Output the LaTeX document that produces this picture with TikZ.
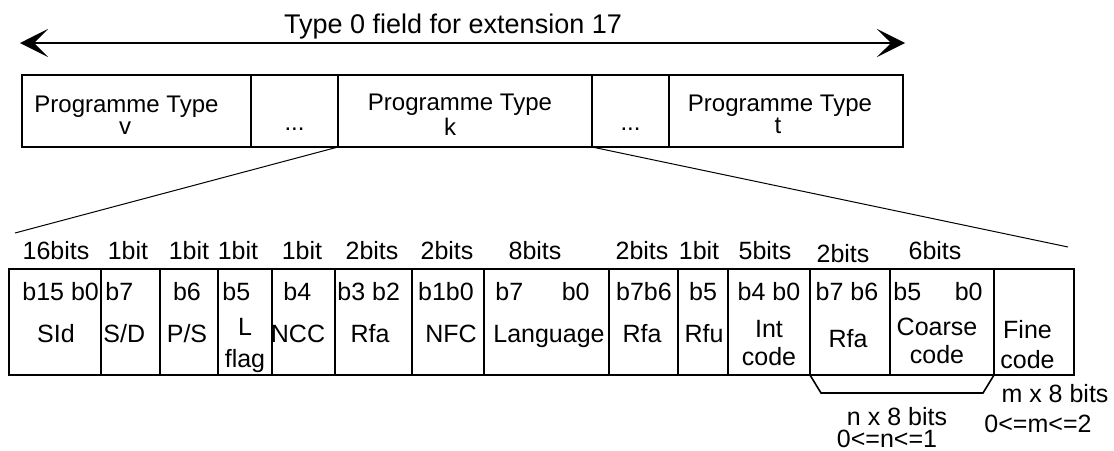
\documentclass[tikz,border=0pt]{standalone}
\usepackage{fontspec}
\setmainfont{Liberation Sans}
\usetikzlibrary{positioning, arrows.meta}
\tikzset{
  ptbox/.style={rectangle, draw, line width=1pt, minimum height=36pt,
                outer sep=0pt, inner sep=0pt, align=center,
                font=\fontsize{12}{11}\selectfont},
  cell/.style={rectangle, draw, line width=1pt, minimum height=53pt,
               outer sep=0pt, inner sep=0pt},
  lbl/.style={inner sep=0pt, anchor=base, font=\fontsize{12.5}{13}\selectfont},
  lbl2/.style={lbl, align=center, font=\fontsize{12.5}{14}\selectfont},
  zoomline/.style={line width=0.5pt},
  brace/.style={line width=0.8pt},
  span/.style={{Stealth[length=14pt,width=14pt,inset=7pt]}-{Stealth[length=14pt,width=14pt,inset=7pt]},
               line width=1pt},
}
\newcommand{\ptstrut}{\rule{0pt}{12pt}}

\begin{document}
\begin{tikzpicture}[x=0.5pt, y=-0.5pt]
  \useasboundingbox (0,0) rectangle (1114,450);

  % whole type 0 field
  \coordinate (spanl) at (20,43);
  \coordinate (spanr) at (905,43);
  \draw[span] (spanl) -- (spanr);
  \node[lbl, font=\fontsize{13.5}{15}\selectfont] (title) at (453,33)
        {Type 0 field for extension 17};

  \node[ptbox, minimum width=114.5pt, anchor=north west] (ptv) at (22,75)
        {\ptstrut Programme Type\hspace*{10pt}\\v\hspace*{11.5pt}};
  \node[ptbox, minimum width=43.5pt, right=0pt of ptv] (dotsa) {\phantom{P}\\...};
  \node[ptbox, minimum width=127pt, right=0pt of dotsa] (ptk)
        {\ptstrut Programme Type\hspace*{5pt}\\k\hspace*{15pt}};
  \node[ptbox, minimum width=38.5pt, right=0pt of ptk] (dotsb) {\phantom{P}\\...};
  \node[ptbox, minimum width=117pt, right=0pt of dotsb] (ptt)
        {\ptstrut Programme Type\hspace*{6pt}\\t\hspace*{8pt}};

  % zoom into programme type k
  \coordinate (zl) at (15,233);
  \coordinate (zr) at (1068,247);
  \draw[zoomline] (ptk.south west) -- (zl);
  \draw[zoomline] (ptk.south east) -- (zr);

  % fields
  \node[cell, minimum width=46pt, anchor=north west] (sid) at (9,269) {};
  \node[cell, minimum width=29.5pt, right=0pt of sid] (sd) {};
  \node[cell, minimum width=29pt, right=0pt of sd] (ps) {};
  \node[cell, minimum width=27pt, right=0pt of ps] (lf) {};
  \node[cell, minimum width=31.5pt, right=0pt of lf] (ncc) {};
  \node[cell, minimum width=38.5pt, right=0pt of ncc] (rfaa) {};
  \node[cell, minimum width=36pt, right=0pt of rfaa] (nfc) {};
  \node[cell, minimum width=62.5pt, right=0pt of nfc] (lang) {};
  \node[cell, minimum width=34.5pt, right=0pt of lang] (rfab) {};
  \node[cell, minimum width=25pt, right=0pt of rfab] (rfu) {};
  \node[cell, minimum width=41pt, right=0pt of rfu] (intc) {};
  \node[cell, minimum width=40pt, right=0pt of intc] (rfac) {};
  \node[cell, minimum width=52pt, right=0pt of rfac] (coarse) {};
  \node[cell, minimum width=40pt, right=0pt of coarse] (fine) {};

  % field sizes
  \node[lbl] (wsid) at (56,259) {16bits};
  \node[lbl] (wsd) at (128,259) {1bit};
  \node[lbl] (wps) at (189,259) {1bit};
  \node[lbl] (wlf) at (238,259) {1bit};
  \node[lbl] (wncc) at (302,259) {1bit};
  \node[lbl] (wrfaa) at (372,259) {2bits};
  \node[lbl] (wnfc) at (447,259) {2bits};
  \node[lbl] (wlang) at (535,259) {8bits};
  \node[lbl] (wrfab) at (642,259) {2bits};
  \node[lbl] (wrfu) at (699,259) {1bit};
  \node[lbl] (wintc) at (765,259) {5bits};
  \node[lbl] (wrfac) at (843,262) {2bits};
  \node[lbl] (wcoarse) at (935,259) {6bits};

  % bit numbers
  \node[lbl, anchor=base west] (bsid) at (22,300) {b15 b0};
  \node[lbl, anchor=base west] (bsd) at (105,300) {b7};
  \node[lbl] (bps) at (187,300) {b6};
  \node[lbl, anchor=base west] (blf) at (222,300) {b5};
  \node[lbl, anchor=base west] (bncc) at (283,300) {b4};
  \node[lbl, anchor=base west] (brfaa) at (337,300) {b3 b2};
  \node[lbl] (bnfc) at (446,300) {b1b0};
  \node[lbl, anchor=base west] (blanga) at (495,300) {b7};
  \node[lbl, anchor=base east] (blangb) at (590,300) {b0};
  \node[lbl] (brfab) at (644,300) {b7b6};
  \node[lbl] (brfu) at (703,300) {b5};
  \node[lbl] (bintc) at (769,300) {b4 b0};
  \node[lbl] (brfac) at (847,300) {b7 b6};
  \node[lbl, anchor=base west] (bcoarsea) at (893,300) {b5};
  \node[lbl, anchor=base east] (bcoarseb) at (983,300) {b0};

  % field names
  \node[lbl] (nsid) at (56,342) {SId};
  \node[lbl, anchor=base west] (nsd) at (103,342) {S/D};
  \node[lbl] (nps) at (187,342) {P/S};
  \node[lbl2] (nlf) at (245,367) {L\\[2pt]flag};
  \node[lbl] (nncc) at (298,342) {NCC};
  \node[lbl] (nrfaa) at (370,342) {Rfa};
  \node[lbl] (nnfc) at (451,342) {NFC};
  \node[lbl] (nlang) at (549,342) {Language};
  \node[lbl] (nrfab) at (642,342) {Rfa};
  \node[lbl] (nrfu) at (704,342) {Rfu};
  \node[lbl2] (nintc) at (769,365) {Int\\code};
  \node[lbl] (nrfac) at (848,347) {Rfa};
  \node[lbl2] (ncoarse) at (937,363) {Coarse\\code};
  \node[lbl2, anchor=base west] (nfine) at (1000,368) {Fine\\[1pt]code};

  % optional part
  \draw[brace] (rfac.south west) -- ([xshift=5.5pt,yshift=-9pt]rfac.south west)
        -- ([xshift=-5.5pt,yshift=-9pt]coarse.south east) -- (coarse.south east);
  \node[lbl] (nbits) at (897,425) {n x 8 bits};
  \node[lbl] (nrange) at (887,447) {0<=n<=1};
  \node[lbl] (mbits) at (1055,402) {m x 8 bits};
  \node[lbl] (mrange) at (1038,432) {0<=m<=2};
\end{tikzpicture}
\end{document}
